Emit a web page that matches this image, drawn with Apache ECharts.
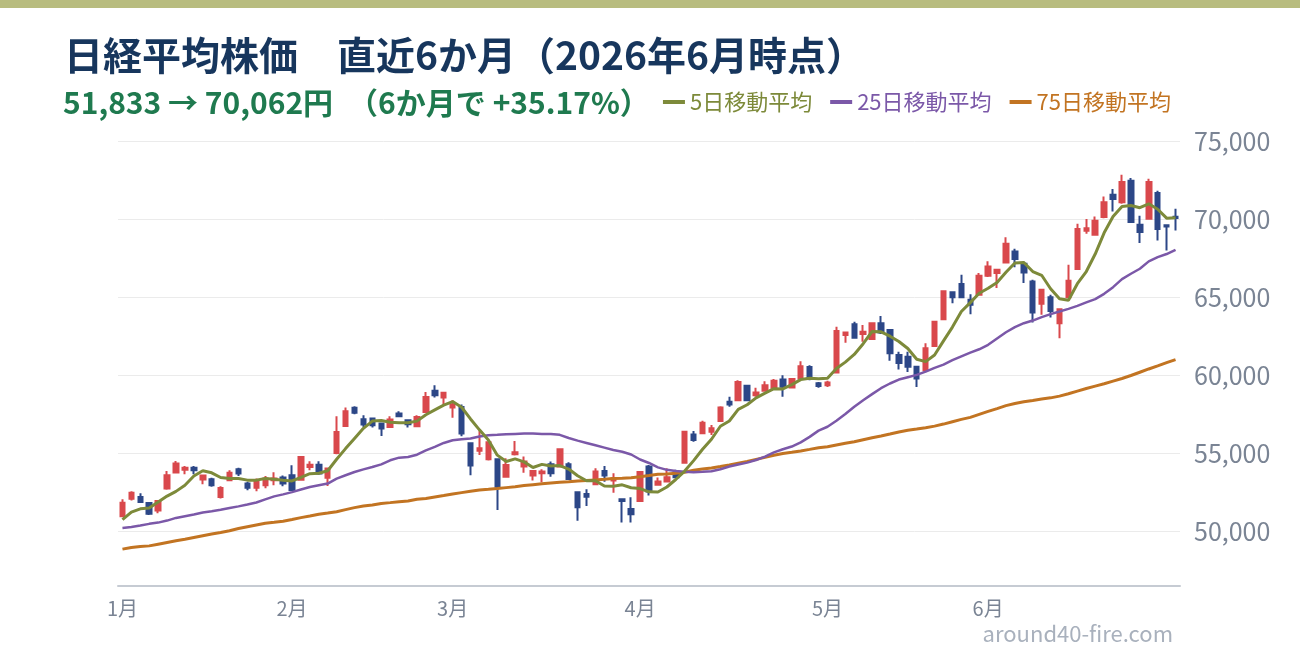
<!DOCTYPE html>
<html lang="ja">
<head>
<meta charset="utf-8">
<title>日経平均株価 直近6か月</title>
<script src="https://cdn.jsdelivr.net/npm/echarts@6.0.0/dist/echarts.min.js"></script>
<style>
  html, body { margin: 0; padding: 0; background: #ffffff; }
  #chart { width: 1300px; height: 660px; }
</style>
</head>
<body>
<div id="chart"></div>
<script>
// 月ラベルと各月の営業日数
const monthLabels = ['1月', '2月', '3月', '4月', '5月', '6月'];
const monthDays = [19, 18, 21, 21, 18, 22];

// ローソク足（始値・終値・安値・高値）
const opens = [50970,52090,52200,51810,51340,52740,53770,53940,54070,53320,
  53340,52200,53280,53970,53060,52800,52950,53280,53450,53600,
  53310,54120,54270,53440,55020,56750,57910,57180,57220,56900,
  56690,57540,57120,56730,57650,59000,58570,57930,57970,55650,
  55170,54620,54620,53500,54940,54150,53570,53720,54300,54150,
  54300,52500,52390,53010,53870,53250,52050,51430,51950,54150,
  52980,53190,53770,54400,56210,56280,56380,57060,58300,58400,
  59320,58720,59000,59190,59720,59210,59790,60530,59480,59360,
  60170,62580,63260,62640,62320,63330,62900,61290,61180,60540,
  60320,61870,63580,65320,65840,64830,65150,66370,66550,67220,
  67930,67140,66000,64570,65000,63330,65000,66800,69250,69000,
  70130,71560,71070,72460,69640,70020,71670,69600,70150];
const closes = [51833,52480,51880,51120,51940,53600,54350,54070,53920,53580,
  52950,52780,53750,53710,52800,53280,53380,53380,53060,52650,
  54760,54270,53700,54020,56370,57690,57590,56840,56800,56580,
  57160,57370,56860,57330,58610,58720,58870,58120,56260,54220,
  55320,55700,52860,54250,55060,54470,53870,53830,53720,55260,
  53360,51540,52220,53830,53570,53400,51940,51090,53800,52550,
  53190,53470,53470,56380,55850,56960,56600,57940,58130,59570,
  58400,58890,59360,59640,59260,59750,60580,59890,59310,59530,
  62830,62730,62400,62790,63330,62730,61400,60790,60540,59790,
  61720,63430,65370,65000,65000,64510,66370,66970,66760,68420,
  67440,66580,64020,65470,64120,64230,66050,69360,69420,69890,
  71070,71280,72370,69810,69170,72370,69360,69530,70062];
const lows = [50950,51980,51810,51040,51160,52670,53710,53660,53660,53020,
  52850,52110,53210,53540,52630,52570,52760,52950,52890,52650,
  53270,53910,53630,52900,54930,56750,57500,56690,56650,56110,
  56690,57370,56650,56690,57650,58570,58140,57270,56090,53600,
  54890,54530,51370,53500,54850,53760,53250,53140,53500,54150,
  53290,50680,51620,53010,53180,52480,50560,50560,51900,52300,
  52940,53190,53400,54400,55740,56280,56170,57020,57980,58400,
  58400,58620,59000,59110,58620,59210,59790,59680,59200,59250,
  60170,62080,62360,62150,62250,62640,60920,60370,60210,59250,
  60320,61820,63580,64610,65000,63910,65150,66290,65580,67220,
  66920,65900,63380,63870,63700,62370,65000,66800,69060,69000,
  70060,70490,70980,69810,68460,70020,68630,67990,69270];
const highs = [52050,52570,52440,51880,51980,53860,54500,54180,54180,53580,
  53430,52890,53920,54070,53170,53380,53540,53790,53580,54240,
  54810,54490,54490,54020,57370,57930,58010,57440,57220,56900,
  57370,57690,57120,57440,58930,59360,58870,58400,58120,55650,
  56450,55700,54620,54680,55790,54790,53930,53970,54470,55260,
  54420,52500,52690,54040,54190,53720,52050,52180,53830,54250,
  53450,54040,53940,56450,56430,57090,56810,58020,58620,59680,
  59360,59190,59620,59750,60000,59750,60890,60640,59570,59640,
  63110,62790,63430,63220,63370,63800,62900,61500,61500,60540,
  62040,63480,65430,65320,66440,65190,66550,67300,66760,68830,
  68100,67290,66110,65470,65150,64230,67070,69700,70000,70170,
  71450,71920,72840,72630,70210,72590,71820,69600,70660];

// 移動平均
const ma5 = [50755,51230,51440,51490,51875,52260,52560,52950,53540,53880,
  53750,53450,53390,53380,53280,53280,53380,53340,53280,53230,
  53450,53690,53720,53880,54620,55300,55950,56600,57060,57100,
  56990,56950,56950,57060,57470,57780,58080,58310,57950,57200,
  56500,55850,54880,54470,54640,54450,54090,54290,54190,54210,
  53990,53560,53240,53240,52900,52890,52980,52790,52740,52530,
  52520,52840,53320,53860,54530,55260,55900,56730,57070,57810,
  58110,58550,58850,59140,59120,59400,59720,59810,59770,59810,
  60430,60840,61330,62020,62800,62780,62500,62160,61710,61020,
  60870,61290,62200,63080,64080,64650,65250,65570,65940,66590,
  67190,67220,66640,66400,65540,64900,64800,65860,66640,67760,
  69120,70170,70810,70870,70730,70980,70630,70060,70080];
const ma25 = [50220,50280,50370,50480,50560,50690,50860,50970,51080,51210,
  51290,51380,51490,51600,51720,51850,52050,52240,52370,52510,
  52680,52840,52950,53060,53380,53590,53800,53970,54120,54290,
  54550,54720,54760,54910,55190,55410,55660,55830,55900,55950,
  56070,56150,56180,56220,56240,56260,56260,56240,56240,56180,
  55980,55810,55660,55510,55360,55210,55100,54920,54600,54380,
  54100,53940,53870,53810,53790,53810,53850,53980,54150,54280,
  54400,54570,54790,55060,55260,55430,55700,56050,56450,56700,
  57080,57510,57980,58400,58790,59170,59470,59720,59870,60020,
  60230,60470,60680,60960,61210,61450,61660,61950,62350,62750,
  63080,63330,63500,63720,63910,64080,64250,64440,64660,64870,
  65210,65640,66150,66500,66820,67290,67560,67760,68030];
const ma75 = [48860,48970,49030,49070,49180,49290,49400,49500,49610,49720,
  49830,49930,50040,50180,50300,50410,50520,50580,50650,50760,
  50880,50980,51090,51170,51260,51390,51520,51620,51690,51790,
  51840,51900,51940,52050,52110,52200,52290,52390,52480,52570,
  52650,52690,52740,52800,52860,52930,52990,53050,53100,53140,
  53180,53230,53250,53290,53330,53380,53400,53440,53500,53570,
  53650,53680,53720,53790,53910,54000,54060,54150,54250,54360,
  54470,54610,54740,54870,54980,55060,55150,55250,55360,55420,
  55530,55640,55740,55870,56000,56110,56230,56360,56470,56550,
  56640,56740,56870,57020,57170,57300,57490,57680,57860,58050,
  58190,58300,58380,58470,58550,58660,58810,58980,59150,59300,
  59450,59620,59790,59980,60190,60400,60600,60810,61000];

// 色
const UP_COLOR = '#d9484c';
const DOWN_COLOR = '#2c4787';
const MA5_COLOR = '#7d8a3a';
const MA25_COLOR = '#7b58a8';
const MA75_COLOR = '#c27422';
const FONT = '"Noto Sans CJK JP", "Noto Sans", sans-serif';

// カテゴリ（営業日）と月初インデックス
const categories = [];
const monthStartLabel = {};
monthLabels.forEach((label, m) => {
  monthStartLabel[categories.length] = label;
  for (let d = 0; d < monthDays[m]; d++) {
    categories.push(label + (d + 1));
  }
});

const candleData = opens.map((o, i) => [o, closes[i], lows[i], highs[i]]);

const chart = echarts.init(document.getElementById('chart'));

const option = {
  backgroundColor: '#ffffff',
  animation: false,
  textStyle: { fontFamily: FONT },
  title: [
    {
      text: '日経平均株価　直近6か月（2026年6月時点）',
      left: 59, top: 31,
      textStyle: { fontSize: 39, fontWeight: 'bold', color: '#17365d', fontFamily: FONT }
    },
    {
      text: '51,833 → 70,062円　（6か月で +35.17%）',
      left: 58, top: 83,
      textStyle: { fontSize: 30, fontWeight: 'bold', color: '#1f7a4f', fontFamily: FONT }
    }
  ],
  legend: {
    right: 124, top: 86,
    icon: 'rect',
    itemWidth: 22, itemHeight: 4, itemGap: 18,
    textStyle: { fontSize: 22, fontFamily: FONT },
    data: [
      { name: '5日移動平均', textStyle: { color: MA5_COLOR } },
      { name: '25日移動平均', textStyle: { color: MA25_COLOR } },
      { name: '75日移動平均', textStyle: { color: MA75_COLOR } }
    ]
  },
  grid: { left: 118, right: 120, top: 141, bottom: 74 },
  xAxis: {
    type: 'category',
    data: categories,
    boundaryGap: true,
    axisLine: { lineStyle: { color: '#c6cbd3', width: 2 } },
    axisTick: { show: false },
    splitLine: { show: false },
    axisLabel: {
      interval: (index) => monthStartLabel[index] !== undefined,
      formatter: (value, index) => monthStartLabel[index] || '',
      color: '#7a8494', fontSize: 20, margin: 12, fontFamily: FONT
    }
  },
  yAxis: {
    type: 'value',
    position: 'right',
    min: 46500, max: 75000,
    axisLine: { show: false },
    axisTick: { show: false },
    splitLine: { lineStyle: { color: '#ebebeb', width: 1 } },
    axisLabel: {
      showMinLabel: false,
      color: '#7a8494', fontSize: 25, margin: 14, fontFamily: FONT,
      formatter: (v) => v.toLocaleString('en-US')
    }
  },
  series: [
    {
      name: '日経平均',
      type: 'candlestick',
      data: candleData,
      barWidth: 5,
      itemStyle: {
        color: UP_COLOR, color0: DOWN_COLOR,
        borderColor: UP_COLOR, borderColor0: DOWN_COLOR,
        borderWidth: 2
      },
      z: 2
    },
    {
      name: '5日移動平均', type: 'line', data: ma5,
      showSymbol: false, symbol: 'none',
      lineStyle: { color: MA5_COLOR, width: 3 }, itemStyle: { color: MA5_COLOR }, z: 5
    },
    {
      name: '25日移動平均', type: 'line', data: ma25,
      showSymbol: false, symbol: 'none',
      lineStyle: { color: MA25_COLOR, width: 2.5 }, itemStyle: { color: MA25_COLOR }, z: 4
    },
    {
      name: '75日移動平均', type: 'line', data: ma75,
      showSymbol: false, symbol: 'none',
      lineStyle: { color: MA75_COLOR, width: 3 }, itemStyle: { color: MA75_COLOR }, z: 3
    }
  ],
  graphic: [
    // 上部の帯
    { type: 'rect', left: 0, top: 0, shape: { width: 1300, height: 8 }, style: { fill: '#b8bc7f' }, silent: true },
    // サイト名
    {
      type: 'text', right: 127, top: 623,
      style: { text: 'around40-fire.com', fill: '#a9b1bd', fontSize: 22, fontFamily: FONT }, silent: true
    }
  ]
};

chart.setOption(option);
</script>
</body>
</html>
